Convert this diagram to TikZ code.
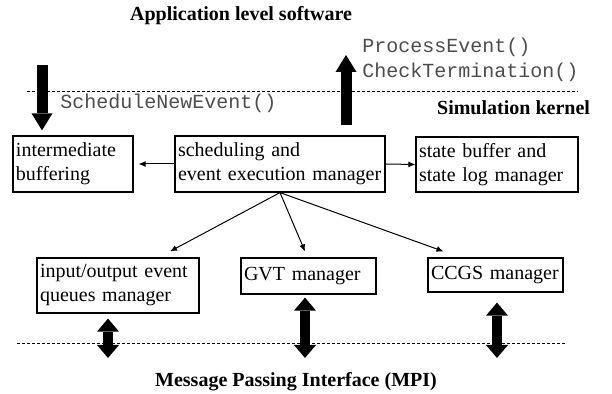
\documentclass[tikz,border=0pt]{standalone}
\usepackage{fontspec}
\setmainfont{Liberation Serif}
\setmonofont{Liberation Mono}
\usetikzlibrary{arrows.meta,shadows}

\begin{document}
\begin{tikzpicture}[x=0.5pt, y=-0.5pt,
    module/.style={draw, line width=0.6pt, fill=white, align=left, inner xsep=1.5pt, inner ysep=0pt,
        drop shadow={shadow xshift=0.5pt, shadow yshift=-0.5pt, fill=black!35, opacity=1}},
    call/.style={line width=0.5pt, -{Latex[length=3.5pt,width=3pt]}},
    bigcall/.style={line width=5.5pt, -{Triangle[length=8.5pt,width=10.5pt,line width=0pt]}},
    mpicall/.style={line width=5pt, {Triangle[length=6.5pt,width=11pt,line width=0pt]}-{Triangle[length=6.5pt,width=11pt,line width=0pt]}},
    layer/.style={dash pattern=on 1.5pt off 1pt, line width=0.45pt},
    title/.style={font=\bfseries},
    fcall/.style={font=\ttfamily, text=black!70, anchor=west, inner sep=0pt}]
\useasboundingbox (0,0) rectangle (612,394);

% layer borders
\draw[layer] (27,91) -- (578,91);
\draw[layer] (17,343) -- (567,343);

\node[title] (app) at (241,16) {Application level software};
\node[title, anchor=east] (kernel) at (597,108) {Simulation kernel};
\node[title] (mpi) at (296,382) {Message Passing Interface (MPI)};

\node[fcall] (proc) at (362,47) {ProcessEvent()};
\node[fcall] (check) at (362,72) {CheckTermination()};
\node[fcall] (sne) at (60,103) {ScheduleNewEvent()};

% kernel modules
\node[module, text width=57pt, minimum height=28pt] (buf) at (73,164) {intermediate\\buffering};
\node[module, text width=102pt, minimum height=28pt] (sched) at (280,164) {scheduling and\\event execution manager};
\node[module, text width=78pt, minimum height=27.5pt] (state) at (497,164.5) {state buffer and\\state log manager};
\node[module, text width=78pt, minimum height=27.5pt] (io) at (118,285.5) {input/output event\\queues manager};
\node[module, text width=64.5pt, minimum height=18pt] (gvt) at (308.5,276) {GVT manager};
\node[module, text width=64.5pt, minimum height=17pt] (ccgs) at (495.5,275) {CCGS manager};

% calls from/to the application
\coordinate (schedin) at (42,65);
\coordinate (procout) at (346,55);
\draw[bigcall] (schedin) -- ([xshift=-15.5pt, yshift=2.5pt]buf.north);
\draw[bigcall] ([xshift=33pt, yshift=5pt]sched.north) -- (procout);

\draw[call] (sched.west) -- ([xshift=2.5pt]buf.east);
\draw[call] (sched.east) -- (state.west);
\foreach \Tgt/\Dx in {io/26pt, gvt/-1.75pt, ccgs/-26pt}{
    \draw[call] (sched.south) -- ([xshift=\Dx, yshift=3pt]\Tgt.north);
}

% MPI ports
\coordinate (ioport) at (108,358);
\coordinate (gvtport) at (305,358);
\coordinate (ccgsport) at (497,358);
\draw[mpicall] ([xshift=-5pt, yshift=-2.5pt]io.south) -- (ioport);
\draw[mpicall] ([xshift=-1.75pt, yshift=-1.5pt]gvt.south) -- (gvtport);
\draw[mpicall] ([xshift=0.75pt, yshift=-5pt]ccgs.south) -- (ccgsport);

\end{tikzpicture}
\end{document}
